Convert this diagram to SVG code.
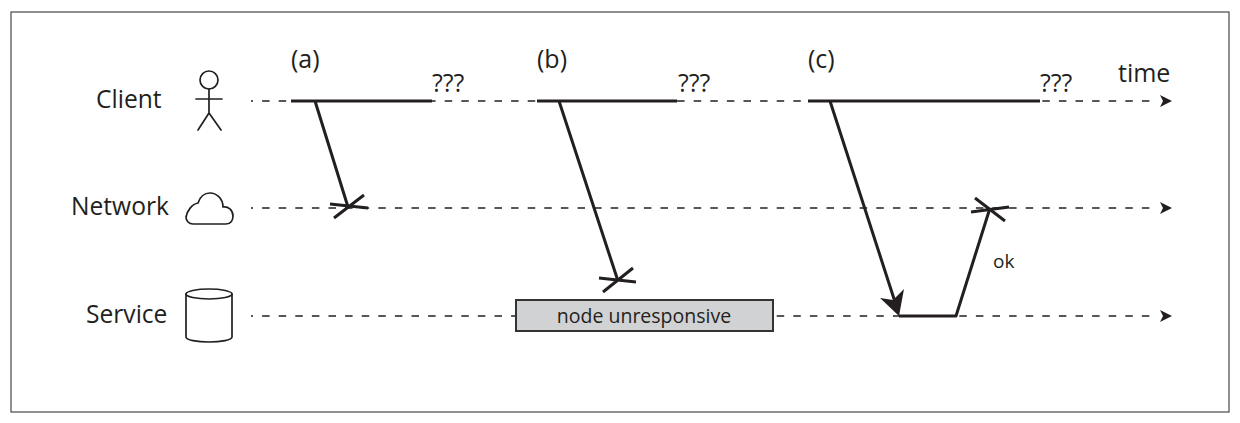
<svg xmlns="http://www.w3.org/2000/svg" width="1240" height="423" viewBox="0 0 1240 423">
<style>
text{font-family:"Open Sans","Noto Sans","Liberation Sans",sans-serif;fill:#231f20}
.lab{font-size:24.6px}
.h{font-size:25px}
.q{font-size:25px}
.ic{fill:none;stroke:#231f20;stroke-width:1.7;stroke-linecap:round;stroke-linejoin:round}
.d{fill:none;stroke:#231f20;stroke-width:1.3;stroke-dasharray:7.5 9.1;stroke-dashoffset:5.5}
.s{fill:none;stroke:#231f20;stroke-width:3;stroke-linejoin:round}
.x{fill:none;stroke:#231f20;stroke-width:3}
</style>
<defs>
<path id="ah" d="M1160 -6L1172 0L1160 6L1163 0Z" fill="#231f20"/>
</defs>
<rect width="1240" height="423" fill="#fff"/>
<rect x="11" y="12" width="1218" height="400" fill="none" stroke="#555" stroke-width="1.3"/>
<g id="client"><text class="lab" x="96" y="108">Client</text>
<g class="ic"><circle cx="209" cy="80" r="9"/><path d="M209 89V113M196 99H222M198 130L209 113L221 130"/></g></g>
<g id="network"><text class="lab" x="71" y="215">Network</text>
<path class="ic" d="M193 224H226C231 224 233 220 233 216C233 210 228 206 223 207C223 198 216 193 210 193C204 193 200 197 198 203C192 204 187 211 186 217C186 221 189 224 193 224Z"/></g>
<g id="service"><text class="lab" x="86" y="323">Service</text>
<g class="ic"><ellipse cx="209" cy="294" rx="23" ry="5"/><path d="M186 294V337C186 340 197 342 209 342C221 342 232 340 232 337V294"/></g></g>
<g id="connectors">
<path class="d" d="M251 101H1152M251 208H1152M251 316H1152"/>
<use href="#ah" y="101"/><use href="#ah" y="208"/><use href="#ah" y="316"/>
<path class="s" d="M291 101H432M315 101L348 207"/>
<path class="x" d="M334 218L364 195M330 204L368 208"/>
<path class="s" d="M537 101H677M559 101L618 281"/>
<path class="x" d="M603 292L633 268M599 278L636 282"/>
<path class="s" d="M808 101H1040M830 101L896 305M899 316H956L990 208"/>
<path d="M899 316L880 298L893 300L904 289Z" fill="#231f20"/>
<path class="x" d="M975 198L1005 221M971 212L1009 207"/>
</g>
<g id="unresponsive"><rect x="516" y="300" width="257" height="31" fill="#d1d2d3" stroke="#333" stroke-width="2"/>
<text x="644" y="323" text-anchor="middle" font-size="19.5">node unresponsive</text></g>
<g id="labels">
<text class="h" x="291" y="68">(a)</text><text class="h" x="537" y="68">(b)</text><text class="h" x="808" y="68">(c)</text>
<text class="q" x="432" y="92">???</text><text class="q" x="678" y="92">???</text><text class="q" x="1040" y="92">???</text>
<text class="h" x="1118" y="82">time</text>
<text x="993" y="268" font-size="19">ok</text>
</g>
</svg>
